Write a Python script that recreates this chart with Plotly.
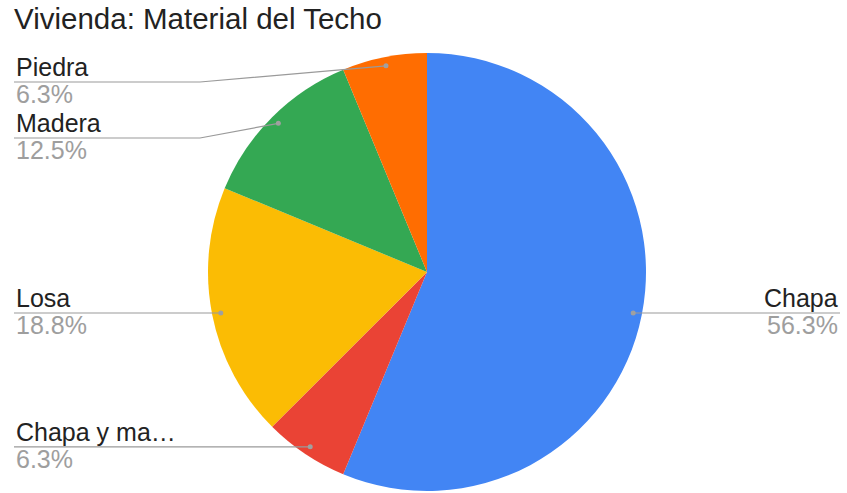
import plotly.graph_objects as go
import math
from decimal import Decimal, ROUND_HALF_UP

# ---- data ----
labels = ["Chapa", "Chapa y ma…", "Losa", "Madera", "Piedra"]
values = [9, 1, 3, 2, 1]
colors = ["#4285F4", "#EA4335", "#FBBC04", "#34A853", "#FF6D01"]
title_text = "Vivienda: Material del Techo"

# ---- layout geometry (pixels) ----
W, H = 847, 493
cx, cy, R = 427, 272, 219
DOT_F = 0.96
LEFT_X, RIGHT_X = 14, 840
ELBOW_X_LEFT, ELBOW_X_RIGHT = 200, 656
MIN_LINE_Y = 82
BLOCK_H = 56
LABEL_OFF, PCT_OFF = -15, 12
FONT = "Arial, Liberation Sans, sans-serif"
LINE_COL = "#9a9a9a"

def px(x):
    return x / W

def py(y):
    return 1 - y / H

total = sum(values)
pcts = [v / total * 100 for v in values]
pct_txt = [str(Decimal(str(p)).quantize(Decimal("0.1"), rounding=ROUND_HALF_UP)) + "%" for p in pcts]

fig = go.Figure(go.Pie(
    labels=labels, values=values, sort=False, direction="clockwise", rotation=0,
    marker=dict(colors=colors, line=dict(color="white", width=0)),
    textinfo="none", showlegend=False, hoverinfo="label+percent",
    domain=dict(x=[px(cx - R), px(cx + R)], y=[py(cy + R), py(cy - R)]),
))

# compute slice midpoints
cum = 0
items = []
for lab, v, pt in zip(labels, values, pct_txt):
    mid = (cum + v / 2) / total * 2 * math.pi
    cum += v
    dx = math.sin(mid) * R * DOT_F
    dy = -math.cos(mid) * R * DOT_F
    items.append(dict(label=lab, pct=pt, x=cx + dx, y=cy + dy, left=math.sin(mid) < 0))

shapes, annotations = [], []
for side in (True, False):
    group = sorted([it for it in items if it["left"] == side], key=lambda d: d["y"])
    prev = None
    for it in group:
        ly = max(it["y"], MIN_LINE_Y)
        if prev is not None:
            ly = max(ly, prev + BLOCK_H)
        prev = ly
        ex = LEFT_X if side else RIGHT_X
        elbow = ELBOW_X_LEFT if side else ELBOW_X_RIGHT
        if abs(ly - it["y"]) > 0.5:
            pts = [(ex, ly), (elbow, ly), (it["x"], it["y"])]
        else:
            pts = [(ex, ly), (it["x"], it["y"])]
        path = "M " + " L ".join(f"{px(a)},{py(b)}" for a, b in pts)
        shapes.append(dict(type="path", path=path, xref="paper", yref="paper",
                           line=dict(color=LINE_COL, width=1.2)))
        shapes.append(dict(type="circle", xref="paper", yref="paper",
                           x0=px(it["x"] - 2.5), x1=px(it["x"] + 2.5),
                           y0=py(it["y"] + 2.5), y1=py(it["y"] - 2.5),
                           fillcolor="#a0a0a0", line=dict(width=0)))
        anchor = "left" if side else "right"
        annotations.append(dict(text=it["label"], x=px(ex), y=py(ly + LABEL_OFF), xref="paper", yref="paper",
                                xanchor=anchor, yanchor="middle", showarrow=False,
                                font=dict(family=FONT, size=25, color="#222222")))
        annotations.append(dict(text=it["pct"], x=px(ex), y=py(ly + PCT_OFF), xref="paper", yref="paper",
                                xanchor=anchor, yanchor="middle", showarrow=False,
                                font=dict(family=FONT, size=25, color="#9e9e9e")))

fig.update_layout(
    width=W, height=H, margin=dict(l=0, r=0, t=0, b=0),
    paper_bgcolor="white", plot_bgcolor="white",
    title=dict(text=title_text, x=px(14), xanchor="left", y=py(19), yanchor="middle",
               xref="paper", yref="paper",
               font=dict(family=FONT, size=29.5, color="#222222")),
    shapes=shapes, annotations=annotations,
)
fig.write_html("out.html", config={"displayModeBar": False},
               post_script="document.body.style.margin='0';")
